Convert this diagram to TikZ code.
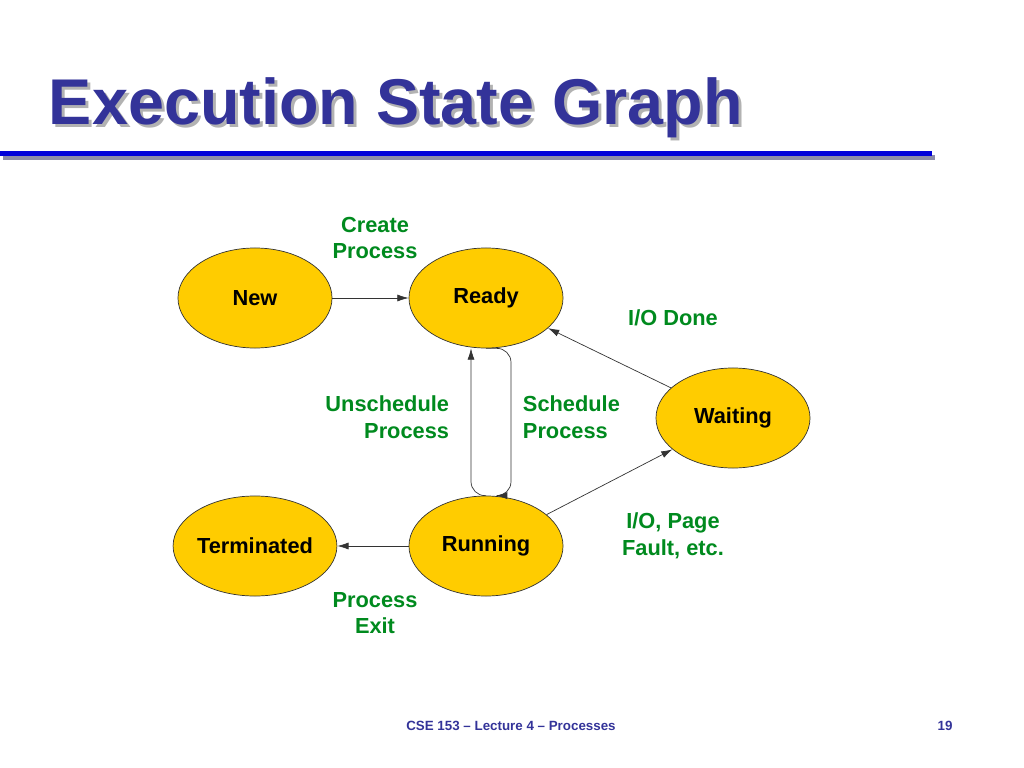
\documentclass[tikz,border=0pt]{standalone}
\usepackage{fontspec}
\setmainfont{Liberation Sans}
\usetikzlibrary{positioning,shapes.geometric,arrows.meta}
\definecolor{stategold}{HTML}{FFCC00}
\definecolor{labelgreen}{HTML}{008A1E}
\definecolor{titleblue}{HTML}{333399}
\definecolor{rulegray}{HTML}{8C8CA8}
\tikzset{
  state/.style={ellipse, draw=black!80, fill=stategold, line width=0.5pt,
    minimum width=3.85cm, minimum height=2.5cm, inner sep=0pt,
    font=\fontsize{15.5}{18}\selectfont\bfseries},
  tlabel/.style={text=labelgreen, font=\fontsize{15.5}{19}\selectfont\bfseries, align=center},
  arr/.style={-{Latex[length=8pt,width=5pt]}, line width=0.5pt, black!80}
}
\begin{document}
\begin{tikzpicture}[x=0.025cm, y=-0.025cm]
  \useasboundingbox (0,0) rectangle (1024,768);
  % title and rule
  \node[anchor=base west, text=gray!60, font=\fontsize{46}{50}\selectfont\bfseries] at (47,128) {Execution State Graph};
  \node[anchor=base west, text=titleblue, font=\fontsize{46}{50}\selectfont\bfseries] (title) at (44,125) {Execution State Graph};
  \fill[rulegray] (3,155) rectangle (935,160);
  \fill[blue!85!black] (0,151) rectangle (932,156);

  % states
  \node[state] (new) at (255,298) {\raisebox{-4pt}{New}};
  \node[state] (rdy) at (486,298) {\raisebox{-4pt}{Ready}};
  \node[state] (wait) at (733,418) {Waiting};
  \node[state] (term) at (255,546) {Terminated};
  \node[state] (run) at (486,546) {Running};

  \coordinate (sl) at (471,420);
  \coordinate (sr) at (511,420);

  % transitions
  \draw[arr] (new) -- (rdy);
  \draw[arr] (wait) -- (rdy);
  \draw[arr] (run) -- (wait);
  \draw[arr] (run) -- (term);
  \draw[arr, rounded corners=10pt] (run.north) -| (sl) -- ([xshift=-15*0.025cm]rdy.south);
  \draw[arr, rounded corners=10pt] (rdy.south) -| (sr) |- ([xshift=0.25cm]run.north);

  % labels
  \node[tlabel] (lcreate) at (375,238) {Create\\Process};
  \node[tlabel] (ldone) at (673,318) {I/O Done};
  \node[tlabel, align=right, anchor=east] (lunsch) at (454,417) {Unschedule\\Process};
  \node[tlabel, align=left, anchor=west] (lsch) at (518,417) {Schedule\\Process};
  \node[tlabel] (lfault) at (673,536) {I/O, Page\\Fault, etc.};
  \node[tlabel] (lexit) at (375,613) {Process\\Exit};

  % footer
  \node[text=titleblue, font=\fontsize{9.5}{11}\selectfont\bfseries] (foot) at (511,726) {CSE 153 – Lecture 4 – Processes};
  \node[text=titleblue, font=\fontsize{9.5}{11}\selectfont\bfseries] (page) at (945,726) {19};
\end{tikzpicture}
\end{document}
